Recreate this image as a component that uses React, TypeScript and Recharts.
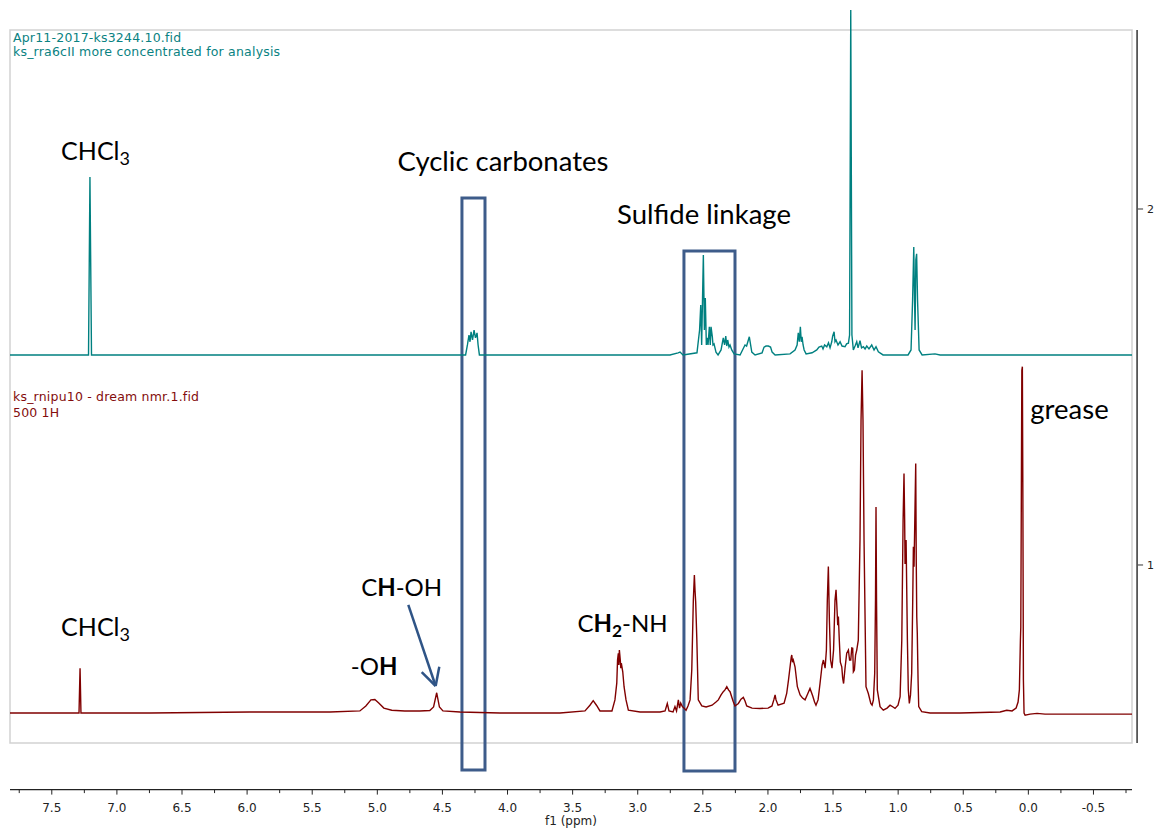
import React from 'react';
import {
  ComposedChart,
  Line,
  XAxis,
  YAxis,
  ReferenceArea,
  ReferenceLine,
  ReferenceDot,
  Label,
} from 'recharts';

// Stacked 1H NMR traces: chemical shift (ppm) and intensity above each trace's baseline.
const tealBaseline = 1.59;
const redBaseline = 0.584;

const tealTrace: [number, number][] = [
  [7.821, 0], [7.218, 0], [7.207, 0.5], [7.195, 0],
  [4.322, 0], [4.308, 0.028], [4.296, 0.056], [4.288, 0.037], [4.28, 0.065], [4.269, 0.042],
  [4.257, 0.07], [4.246, 0.048], [4.234, 0.062], [4.226, 0.028], [4.216, 0],
  [2.752, 0], [2.69, 0.006], [2.675, 0.008], [2.652, 0], [2.545, 0.006], [2.525, 0.07],
  [2.516, 0.14], [2.509, 0.028], [2.496, 0.281], [2.488, 0.07], [2.481, 0.16], [2.473, 0.028],
  [2.468, 0.048], [2.46, 0.028], [2.45, 0.079], [2.443, 0.028], [2.437, 0.079], [2.427, 0.051],
  [2.422, 0.028], [2.414, 0.031], [2.399, 0.008], [2.383, 0], [2.36, 0.014], [2.343, 0.048],
  [2.333, 0.028], [2.324, 0.053], [2.316, 0.025], [2.309, 0.042], [2.299, 0.022], [2.291, 0.028],
  [2.278, 0.014], [2.26, 0.003], [2.214, 0], [2.176, 0.028], [2.164, 0.025], [2.143, 0.051],
  [2.124, 0.008], [2.099, 0], [2.045, 0.006], [2.03, 0.022], [2.015, 0.025], [1.997, 0.025],
  [1.98, 0.022], [1.968, 0.008], [1.945, 0], [1.83, 0.003], [1.792, 0.014], [1.776, 0.028],
  [1.767, 0.062], [1.759, 0.037], [1.751, 0.079], [1.744, 0.037], [1.738, 0.051], [1.73, 0.028],
  [1.722, 0.014], [1.707, 0.003], [1.661, 0.006], [1.625, 0.014], [1.608, 0.022], [1.587, 0.025],
  [1.577, 0.017], [1.565, 0.028], [1.548, 0.023], [1.535, 0.034], [1.523, 0.02], [1.51, 0.037],
  [1.503, 0.053], [1.492, 0.065], [1.485, 0.037], [1.477, 0.042], [1.462, 0.028], [1.446, 0.037],
  [1.431, 0.025], [1.408, 0.023], [1.396, 0.031], [1.382, 0.033], [1.373, 0.056], [1.364, 0.969],
  [1.355, 0.056], [1.344, 0.014], [1.331, 0.025], [1.318, 0.037], [1.308, 0.02], [1.293, 0.04],
  [1.281, 0.02], [1.267, 0.023], [1.254, 0.017], [1.241, 0.025], [1.224, 0.017], [1.203, 0.028],
  [1.185, 0.014], [1.17, 0.023], [1.152, 0.009], [1.116, 0], [0.924, 0], [0.901, 0.014],
  [0.889, 0.154], [0.88, 0.303], [0.874, 0.154], [0.87, 0.07], [0.864, 0.267], [0.858, 0.284],
  [0.851, 0.154], [0.839, 0.014], [0.816, 0], [0.717, 0.003], [0.678, 0], [-0.796, 0],
];

const redTrace: [number, number][] = [
  [7.821, 0], [7.291, 0], [7.283, 0.126], [7.276, 0], [6.746, 0], [5.978, 0.003], [5.364, 0.003],
  [5.134, 0.006], [5.088, 0.02], [5.049, 0.037], [5.019, 0.038], [4.989, 0.028], [4.95, 0.014],
  [4.889, 0.008], [4.789, 0.006], [4.674, 0.006], [4.597, 0.007], [4.568, 0.017], [4.544, 0.057],
  [4.523, 0.017], [4.496, 0.006], [4.365, 0.003], [4.058, 0], [3.597, 0], [3.405, 0.006],
  [3.367, 0.022], [3.342, 0.035], [3.317, 0.022], [3.29, 0.006], [3.198, 0.006], [3.175, 0.037],
  [3.161, 0.084], [3.155, 0.149], [3.149, 0.168], [3.145, 0.135], [3.141, 0.177], [3.134, 0.149],
  [3.13, 0.126], [3.126, 0.14], [3.115, 0.116], [3.105, 0.074], [3.09, 0.037], [3.072, 0.008],
  [2.982, 0.003], [2.829, 0.003], [2.79, 0.006], [2.773, 0.027], [2.76, 0.006], [2.729, 0.003],
  [2.714, 0.018], [2.702, 0.006], [2.688, 0.037], [2.679, 0.014], [2.67, 0.028], [2.657, 0.018],
  [2.645, 0.014], [2.629, 0.008], [2.614, 0.02], [2.598, 0.037], [2.585, 0.121], [2.573, 0.317],
  [2.565, 0.388], [2.56, 0.345], [2.555, 0.313], [2.546, 0.205], [2.535, 0.037], [2.508, 0.02],
  [2.475, 0.017], [2.429, 0.022], [2.399, 0.031], [2.381, 0.037], [2.36, 0.051], [2.343, 0.06],
  [2.33, 0.065], [2.316, 0.074], [2.303, 0.065], [2.291, 0.06], [2.278, 0.045], [2.266, 0.032],
  [2.253, 0.02], [2.227, 0.027], [2.207, 0.039], [2.189, 0.044], [2.176, 0.034], [2.163, 0.02],
  [2.122, 0.014], [2.061, 0.013], [1.999, 0.014], [1.969, 0.02], [1.955, 0.037], [1.945, 0.051],
  [1.938, 0.037], [1.922, 0.022], [1.876, 0.028], [1.856, 0.055], [1.842, 0.093], [1.83, 0.13],
  [1.821, 0.157], [1.817, 0.163], [1.811, 0.143], [1.805, 0.149], [1.792, 0.13], [1.774, 0.074],
  [1.753, 0.051], [1.734, 0.042], [1.715, 0.037], [1.696, 0.053], [1.677, 0.069], [1.656, 0.048],
  [1.642, 0.031], [1.631, 0.022], [1.615, 0.037], [1.6, 0.083], [1.584, 0.135], [1.574, 0.149],
  [1.561, 0.126], [1.551, 0.177], [1.544, 0.317], [1.536, 0.412], [1.528, 0.261], [1.519, 0.149],
  [1.508, 0.126], [1.496, 0.177], [1.485, 0.317], [1.477, 0.346], [1.471, 0.303], [1.464, 0.247],
  [1.459, 0.271], [1.452, 0.205], [1.444, 0.143], [1.433, 0.13], [1.426, 0.098], [1.419, 0.083],
  [1.408, 0.126], [1.395, 0.168], [1.382, 0.177], [1.373, 0.149], [1.364, 0.149], [1.356, 0.183],
  [1.349, 0.182], [1.344, 0.116], [1.336, 0.121], [1.327, 0.163], [1.318, 0.177], [1.306, 0.205],
  [1.293, 0.486], [1.285, 0.823], [1.277, 0.963], [1.27, 0.823], [1.262, 0.486], [1.247, 0.074],
  [1.229, 0.055], [1.21, 0.027], [1.2, 0.022], [1.19, 0.037], [1.18, 0.112], [1.174, 0.317],
  [1.17, 0.579], [1.166, 0.317], [1.16, 0.065], [1.139, 0.018], [1.114, 0.008], [1.085, 0.014],
  [1.062, 0.022], [1.039, 0.017], [1.024, 0.013], [1.001, 0.022], [0.985, 0.046], [0.972, 0.205],
  [0.962, 0.542], [0.955, 0.673], [0.95, 0.542], [0.947, 0.419], [0.943, 0.469], [0.939, 0.486],
  [0.933, 0.317], [0.929, 0.205], [0.922, 0.065], [0.914, 0.027], [0.905, 0.051], [0.896, 0.112],
  [0.888, 0.317], [0.883, 0.467], [0.878, 0.411], [0.872, 0.542], [0.865, 0.701], [0.861, 0.43],
  [0.857, 0.27], [0.853, 0.224], [0.847, 0.093], [0.842, 0.018], [0.819, 0.004], [0.755, 0],
  [0.525, 0], [0.217, 0.003], [0.166, 0.008], [0.125, 0.006], [0.094, 0.014], [0.079, 0.031],
  [0.069, 0.065], [0.061, 0.205], [0.058, 0.242], [0.054, 0.598], [0.05, 0.963], [0.046, 0.973],
  [0.042, 0.598], [0.038, 0.093], [0.033, 0], [0.025, -0.006], [-0.013, -0.003], [-0.067, -0.001],
  [-0.128, -0.003], [-0.796, -0.003],
];

const ppmTicks = [
  7.75, 7.5, 7.25, 7, 6.75, 6.5, 6.25, 6, 5.75, 5.5, 5.25, 5, 4.75, 4.5, 4.25, 4, 3.75, 3.5,
  3.25, 3, 2.75, 2.5, 2.25, 2, 1.75, 1.5, 1.25, 1, 0.75, 0.5, 0.25, 0, -0.25, -0.5, -0.75,
];
const intensityTicks = [1, 2];

type Run = { text: string; bold?: boolean; sub?: boolean };
type Note = { ppm: number; v: number; size: number; runs: Run[] };

const notes: Note[] = [
  { ppm: 7.164, v: 2.138, size: 25, runs: [{ text: 'CHCl' }, { text: '3', sub: true }] },
  { ppm: 4.035, v: 2.107, size: 27.5, runs: [{ text: 'Cyclic carbonates' }] },
  { ppm: 2.491, v: 1.958, size: 27.5, runs: [{ text: 'Sulfide linkage' }] },
  { ppm: -0.316, v: 1.41, size: 27.5, runs: [{ text: 'grease' }] },
  { ppm: 7.164, v: 0.801, size: 25, runs: [{ text: 'CHCl' }, { text: '3', sub: true }] },
  { ppm: 5.025, v: 0.691, size: 24, runs: [{ text: '-O' }, { text: 'H', bold: true }] },
  { ppm: 4.813, v: 0.913, size: 24, runs: [{ text: 'C' }, { text: 'H', bold: true }, { text: '-OH' }] },
  {
    ppm: 3.117,
    v: 0.812,
    size: 24,
    runs: [{ text: 'C' }, { text: 'H', bold: true }, { text: '2', bold: true, sub: true }, { text: '-NH' }],
  },
];

const captions = [
  { ppm: 7.798, v: 2.47, text: 'Apr11-2017-ks3244.10.fid', color: '#0a8282' },
  { ppm: 7.798, v: 2.43, text: 'ks_rra6cII more concentrated for analysis', color: '#0a8282' },
  { ppm: 7.798, v: 1.462, text: 'ks_rnipu10 - dream nmr.1.fid', color: '#840c0c' },
  { ppm: 7.798, v: 1.417, text: '500 1H', color: '#840c0c' },
];

// Highlight boxes: [ppm left, ppm right, low, high]
const boxes: [number, number, number, number][] = [
  [4.35, 4.173, 0.424, 2.031],
  [2.645, 2.253, 0.421, 1.882],
];

const tealData = tealTrace.map(([ppm, i]) => ({ ppm, y: tealBaseline + i }));
const redData = redTrace.map(([ppm, i]) => ({ ppm, y: redBaseline + i }));

const TEXT_FONT = "'DejaVu Sans', Verdana, sans-serif";
const NOTE_FONT = "Lato, 'Open Sans', sans-serif";
const BOX_COLOR = '#3e5c8a';
const ARROW_COLOR = '#2f5486';
const RIGHT_AXIS_PPM = -0.835;

function RichText({ x, y, runs, size }: { x: number; y: number; runs: Run[]; size: number }) {
  const shift = size * 0.22;
  return (
    <text x={x} y={y} textAnchor="middle" fontFamily={NOTE_FONT} fontSize={size} fill="#000">
      {runs.map((r, i) => {
        const prevSub = i > 0 && !!runs[i - 1].sub;
        const dy = r.sub && !prevSub ? shift : !r.sub && prevSub ? -shift : 0;
        return (
          <tspan key={i} dy={dy} fontWeight={r.bold ? 700 : 400} fontSize={r.sub ? size * 0.72 : size}>
            {r.text}
          </tspan>
        );
      })}
    </text>
  );
}

function PpmTick(props: any) {
  const { x, y, payload } = props;
  const v: number = payload.value;
  const major = Math.abs(v * 2 - Math.round(v * 2)) < 1e-6;
  return (
    <g>
      <line x1={x} x2={x} y1={y} y2={y + (major ? 5 : 3.5)} stroke="#222" strokeWidth={1} />
      {major && (
        <text x={x} y={y + 22} textAnchor="middle" fontFamily={TEXT_FONT} fontSize={12} fill="#222">
          {v.toFixed(1)}
        </text>
      )}
    </g>
  );
}

export default function App() {
  return (
    <div style={{ width: 1159, height: 832, fontFamily: TEXT_FONT }}>
      <style>{'html,body{margin:0;padding:0;overflow:hidden;background:#fff}'}</style>
      <ComposedChart width={1159} height={832} margin={{ top: 10, right: 27, bottom: 2.4, left: 10 }}>
        <XAxis
          type="number"
          dataKey="ppm"
          domain={[-0.796, 7.821]}
          reversed
          allowDataOverflow
          ticks={ppmTicks}
          interval={0}
          tick={<PpmTick />}
          tickLine={false}
          tickSize={0}
          tickMargin={0}
          height={40}
          axisLine={{ stroke: '#222', strokeWidth: 1.2 }}
        >
          <Label
            value="f1 (ppm)"
            position="insideBottom"
            offset={4.5}
            fontFamily={TEXT_FONT}
            fontSize={12}
            fill="#222"
          />
        </XAxis>
        <YAxis hide type="number" dataKey="y" domain={[0.369, 2.559]} allowDataOverflow />

        {/* plot frame */}
        <ReferenceArea
          x1={7.821}
          x2={-0.796}
          y1={0.5}
          y2={2.503}
          fill="none"
          fillOpacity={0}
          stroke="#d2d2d2"
          strokeWidth={1.5}
          ifOverflow="visible"
        />

        {/* right intensity axis */}
        <ReferenceLine
          segment={[
            { x: RIGHT_AXIS_PPM, y: 0.5 },
            { x: RIGHT_AXIS_PPM, y: 2.503 },
          ]}
          stroke="#333"
          strokeWidth={1.5}
          ifOverflow="visible"
        />
        {intensityTicks.map((t) => (
          <ReferenceDot
            key={`it-${t}`}
            x={RIGHT_AXIS_PPM}
            y={t}
            ifOverflow="visible"
            shape={(p: any) => (
              <g>
                <line x1={p.cx} x2={p.cx + 6} y1={p.cy} y2={p.cy} stroke="#555" strokeWidth={1.2} />
                <text x={p.cx + 10} y={p.cy + 4} fontFamily={TEXT_FONT} fontSize={11} fill="#222">
                  {t}
                </text>
              </g>
            )}
          />
        ))}

        <Line
          data={tealData}
          dataKey="y"
          type="linear"
          stroke="#008080"
          strokeWidth={1.4}
          dot={false}
          activeDot={false}
          isAnimationActive={false}
        />
        <Line
          data={redData}
          dataKey="y"
          type="linear"
          stroke="#800000"
          strokeWidth={1.4}
          dot={false}
          activeDot={false}
          isAnimationActive={false}
        />

        {boxes.map(([a, b, lo, hi], i) => (
          <ReferenceArea
            key={`box-${i}`}
            x1={a}
            x2={b}
            y1={lo}
            y2={hi}
            fill="none"
            fillOpacity={0}
            stroke={BOX_COLOR}
            strokeWidth={3}
            ifOverflow="visible"
          />
        ))}

        {/* arrow pointing at the CH-OH signal */}
        <ReferenceLine
          segment={[
            { x: 4.762, y: 0.888 },
            { x: 4.552, y: 0.66 },
          ]}
          stroke={ARROW_COLOR}
          strokeWidth={2.5}
          ifOverflow="visible"
        />
        <ReferenceLine
          segment={[
            { x: 4.659, y: 0.699 },
            { x: 4.552, y: 0.66 },
          ]}
          stroke={ARROW_COLOR}
          strokeWidth={2.5}
          ifOverflow="visible"
        />
        <ReferenceLine
          segment={[
            { x: 4.524, y: 0.714 },
            { x: 4.552, y: 0.66 },
          ]}
          stroke={ARROW_COLOR}
          strokeWidth={2.5}
          ifOverflow="visible"
        />

        {notes.map((n, i) => (
          <ReferenceDot
            key={`note-${i}`}
            x={n.ppm}
            y={n.v}
            ifOverflow="visible"
            shape={(p: any) => <RichText x={p.cx} y={p.cy} runs={n.runs} size={n.size} />}
          />
        ))}

        {captions.map((c, i) => (
          <ReferenceDot
            key={`cap-${i}`}
            x={c.ppm}
            y={c.v}
            ifOverflow="visible"
            shape={(p: any) => (
              <text
                x={p.cx}
                y={p.cy}
                fontFamily={TEXT_FONT}
                fontSize={12.5}
                letterSpacing={0.2}
                fill={c.color}
              >
                {c.text}
              </text>
            )}
          />
        ))}
      </ComposedChart>
    </div>
  );
}
